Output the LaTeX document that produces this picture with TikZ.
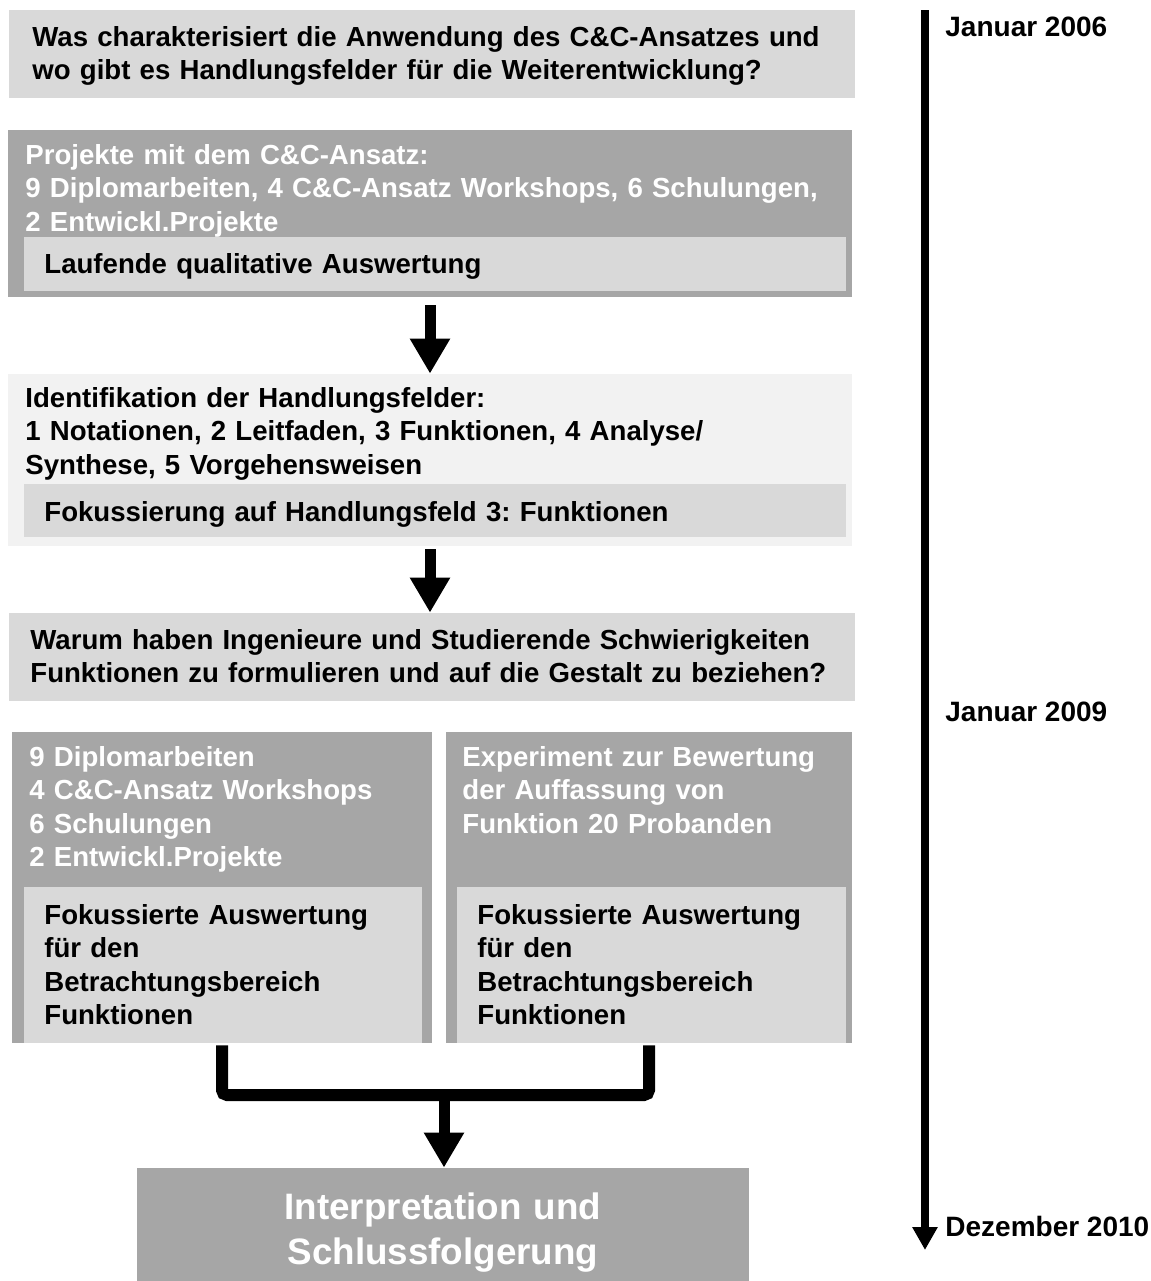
\documentclass[tikz,border=0pt]{standalone}
\usepackage{fontspec}
\setmainfont{Liberation Sans}
\usetikzlibrary{arrows.meta,positioning,fit}
\definecolor{boxdark}{HTML}{A6A6A6}
\definecolor{boxmid}{HTML}{D9D9D9}
\definecolor{boxpale}{HTML}{F2F2F2}
\frenchspacing
\tikzset{
  % Kaesten
  dk/.style={fill=boxdark,inner sep=0pt},
  md/.style={fill=boxmid,inner sep=0pt},
  pl/.style={fill=boxpale,inner sep=0pt},
  % Texte
  tx/.style={anchor=base west,inner sep=0pt,text width=430pt,align=left,
             font=\fontsize{13.8}{16.75}\selectfont\bfseries},
  txw/.style={tx,text=white},
  tl/.style={anchor=base west,inner sep=0pt,
             font=\fontsize{14}{16.75}\selectfont\bfseries},
  % Pfeile
  bigarr/.style={-{Triangle[length=17.5pt,width=19pt]},line width=5.5pt},
  bar/.style={line width=6pt,rounded corners=2.5pt},
  tline/.style={-{Triangle[length=11.5pt,width=12pt]},line width=4pt},
}
\begin{document}
\begin{tikzpicture}[x=0.5pt,y=-0.5pt]
  \useasboundingbox (0,0) rectangle (1151,1281);
  % Frage
  \node[md,fit={(9,10) (855,98)}] (frage) {};
  \node[tx] (frageT) at (32,46) {Was charakterisiert die Anwendung des C\&C-Ansatzes und\\
    wo gibt es Handlungsfelder f\"ur die Weiterentwicklung?};
  % Projekte
  \node[dk,fit={(8,130) (852,297)}] (proj) {};
  \node[txw] (projT) at (25,164) {Projekte mit dem C\&C-Ansatz:\\
    9 Diplomarbeiten, 4 C\&C-Ansatz Workshops, 6 Schulungen,\\
    2 Entwickl.Projekte};
  \node[md,fit={(24,237) (846,291)}] (lauf) {};
  \node[tx] (laufT) at (44,273) {Laufende qualitative Auswertung};
  % Handlungsfelder
  \node[pl,fit={(8,374) (852,546)}] (ident) {};
  \node[tx] (identT) at (25,407) {Identifikation der Handlungsfelder:\\
    1 Notationen, 2 Leitfaden, 3 Funktionen, 4 Analyse/\\
    Synthese, 5 Vorgehensweisen};
  \node[md,fit={(24,484) (846,537)}] (fokus) {};
  \node[tx] (fokusT) at (44,521) {Fokussierung auf Handlungsfeld 3: Funktionen};
  % Warum
  \node[md,fit={(9,613) (855,701)}] (warum) {};
  \node[tx] (warumT) at (30,649) {Warum haben Ingenieure und Studierende Schwierigkeiten\\
    Funktionen zu formulieren und auf die Gestalt zu beziehen?};
  % links
  \node[dk,fit={(12,732) (432,1043)}] (links) {};
  \node[txw] (linksT) at (29,766) {9 Diplomarbeiten\\4 C\&C-Ansatz Workshops\\
    6 Schulungen\\2 Entwickl.Projekte};
  \node[md,fit={(24,887) (422,1043)}] (linksA) {};
  \node[tx] (linksAT) at (44,924) {Fokussierte Auswertung\\f\"ur den\\
    Betrachtungsbereich\\Funktionen};
  % rechts
  \node[dk,fit={(446,732) (852,1043)}] (rechts) {};
  \node[txw] (rechtsT) at (462,766) {Experiment zur Bewertung\\
    der Auffassung von\\Funktion 20 Probanden};
  \node[md,fit={(457,887) (846,1043)}] (rechtsA) {};
  \node[tx] (rechtsAT) at (477,924) {Fokussierte Auswertung\\f\"ur den\\
    Betrachtungsbereich\\Funktionen};
  % Schluss
  \node[dk,fit={(137,1168) (749,1281)}] (schluss) {};
  \node[anchor=base,inner sep=0pt,text width=300pt,align=center,text=white,
        font=\fontsize{18.4}{22.5}\selectfont\bfseries] (schlussT) at (443,1219)
    {Interpretation und\\Schlussfolgerung};
  % Pfeile
  \draw[bigarr] ([yshift=-4pt]proj.south) -- (proj.south |- ident.north);
  \draw[bigarr] ([yshift=-1.5pt]proj.south |- ident.south) -- (proj.south |- warum.north);
  \coordinate (join) at (444,1095);
  \draw[bar] ([yshift=-1pt]links.south) |- (join) -| ([yshift=-1pt]rechts.south);
  \draw[bigarr] (join) -- (join |- schluss.north);
  % Zeitachse
  \coordinate (t0) at (925,10);
  \coordinate (t1) at (925,1250);
  \draw[tline] (t0) -- (t1);
  \node[tl] (jan06) at (945,36) {Januar 2006};
  \node[tl] (jan09) at (945,721) {Januar 2009};
  \node[tl] (dez10) at (945,1236) {Dezember 2010};
\end{tikzpicture}
\end{document}
